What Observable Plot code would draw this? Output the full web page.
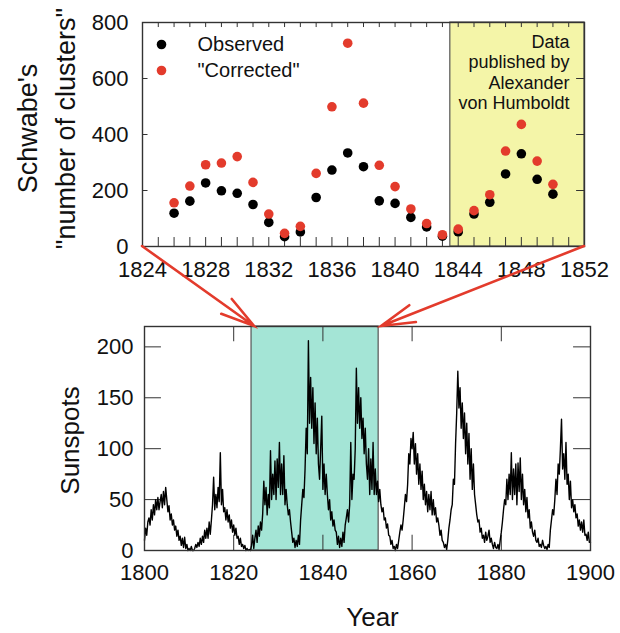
<!DOCTYPE html>
<html><head><meta charset="utf-8">
<script src="https://cdn.jsdelivr.net/npm/d3@7"></script>
<script src="https://cdn.jsdelivr.net/npm/@observablehq/plot@0.6"></script>
<style>
body{margin:0;background:#fff;}
#wrap{position:relative;width:620px;height:633px;font-family:"Liberation Sans",Arial,sans-serif;overflow:hidden;}
#wrap > svg{display:block;}
#arrows{position:absolute;left:0;top:0;pointer-events:none;}
</style></head><body><div id="wrap"></div>
<script>
// ---------- Top panel data (Schwabe's counts) ----------
const years = [1826,1827,1828,1829,1830,1831,1832,1833,1834,1835,1836,1837,1838,1839,1840,1841,1842,1843,1844,1845,1846,1847,1848,1849,1850];
const observed = [119,162,227,199,190,150,86,35,52,175,273,334,285,163,154,104,70,37,52,116,158,259,331,240,187];
const corrected = [156,216,292,298,321,229,116,47,72,261,499,726,512,290,214,134,82,42,62,128,185,341,436,305,222];
const topXTicks = [1824,1828,1832,1836,1840,1844,1848,1852];
const topYTicks = [0,200,400,600,800];
const humboldtRange = [1843.5, 1852];
const humboldtLabel = ["Data","published by","Alexander","von Humboldt"];
const legendLabels = ["Observed", "\"Corrected\""];
const topYLabel = ["Schwabe's", "\"number of clusters\""];

// ---------- Bottom panel data (sunspot number, read quarterly from 1800) ----------
const sunspotStart = 1800;
const sunspots = [
 10,22,15,28, 32,25,40,30, 45,35,50,40, 52,40,48,55, 42,58,45,62,
 50,38,44,30, 36,25,30,20, 24,14,20,10, 14,5,12,3, 13,2,6,0,
 2,0,4,0, 0,2,6,3, 8,4,12,6, 14,8,20,12, 22,12,28,16,
 30,45,72,40, 55,42,62,48, 96,45,60,38, 42,30,40,28, 35,22,30,18,
 25,15,22,12, 14,6,12,4, 6,2,5,0, 2,0,1,0, 5,15,2,12,
 20,8,24,14, 28,20,36,68, 45,62,35,55, 42,98,50,75, 55,88,50,90,
 62,106,55,85, 55,93,45,60, 45,35,40,28, 18,8,12,3, 10,4,15,6,
 30,45,60,52, 80,120,95,206, 125,170,120,160, 105,145,95,130, 85,70,100,132,
 60,85,55,75, 55,40,50,30, 38,24,30,20, 18,6,14,3, 12,4,18,8,
 25,32,40,28, 45,106,50,75, 70,100,179,125, 160,120,150,110, 130,95,120,85,
 70,100,55,90, 60,106,55,80, 55,68,48,60, 45,38,42,30, 32,22,26,15,
 14,6,10,2, 4,0,6,2, 10,18,25,20, 30,42,55,48, 65,95,85,110,
 100,116,85,105, 75,95,65,85, 60,78,50,65, 45,58,38,55, 40,58,35,50,
 35,42,28,32, 25,15,20,10, 8,3,6,1, 10,22,30,40, 45,70,65,105,
 135,176,140,160, 120,145,110,135, 95,125,85,115, 70,100,60,85, 55,45,35,28,
 30,18,22,12, 15,8,18,10, 14,20,8,12, 6,2,8,3, 2,6,1,10,
 18,28,40,50, 45,70,50,75, 55,96,50,80, 55,85,45,86, 58,91,50,75,
 45,60,38,52, 32,40,22,28, 18,14,20,10, 8,12,4,6, 3,10,5,2,
 4,1,6,3, 20,30,40,35, 50,70,55,85, 75,100,129,80, 95,70,106,65,
 75,50,68,42, 50,38,45,32, 36,24,30,20, 28,18,30,15, 16,10,18,8,
 8
];
const bottomXTicks = [1800,1820,1840,1860,1880,1900];
const bottomYTicks = [0,50,100,150,200];
const highlightRange = [1824, 1852.5];

// ---------- styles ----------
const FONT = '"Liberation Sans", Arial, sans-serif';
const RED = "#e33b2c";
const TEAL = "#a4e5d6";
const YELLOW = "#f4f5a8";
const FRAME = "#333";

const obsData = years.map((y, i) => ({year: y, value: observed[i]}));
const corData = years.map((y, i) => ({year: y, value: corrected[i]}));
const minorYears = d3.range(topXTicks[0], topXTicks[topXTicks.length - 1] + 1);
const spData = sunspots.map((v, i) => ({t: sunspotStart + i / 4, v}));

const wrap = document.getElementById("wrap");

const topPlot = Plot.plot({
  width: 620, height: 300,
  marginLeft: 142, marginRight: 36, marginTop: 22, marginBottom: 54,
  style: {fontFamily: FONT, fontSize: "22px", color: "#111", background: "transparent", overflow: "visible"},
  x: {domain: [1824, 1852]},
  y: {domain: [0, 800]},
  marks: [
    Plot.rect([humboldtRange], {x1: d => d[0], x2: d => d[1], fill: YELLOW, stroke: "#555", strokeWidth: 1.2}),
    Plot.ruleX(minorYears, {x: d => d, y1: 0, y2: 32, stroke: FRAME, strokeWidth: 1}),
    Plot.ruleX(minorYears, {x: d => d, y1: 800, y2: 782, stroke: FRAME, strokeWidth: 1}),
    Plot.ruleY(topYTicks, {y: d => d, x1: 1824, x2: 1824.35, stroke: FRAME, strokeWidth: 1}),
    Plot.ruleY(topYTicks, {y: d => d, x1: 1852, x2: 1851.5, stroke: FRAME, strokeWidth: 1}),
    Plot.dot(obsData, {x: "year", y: "value", r: 4.8, fill: "black"}),
    Plot.dot(corData, {x: "year", y: "value", r: 4.8, fill: RED}),
    Plot.dot([legendLabels[0]], {frameAnchor: "top-left", dx: 19, dy: 22, r: 4.8, fill: "black"}),
    Plot.dot([legendLabels[1]], {frameAnchor: "top-left", dx: 19, dy: 48, r: 4.8, fill: RED}),
    Plot.text([legendLabels[0]], {frameAnchor: "top-left", dx: 55, dy: 22, text: d => d, textAnchor: "start", lineAnchor: "middle", fontSize: 20, fill: "#111"}),
    Plot.text([legendLabels[1]], {frameAnchor: "top-left", dx: 55, dy: 48, text: d => d, textAnchor: "start", lineAnchor: "middle", fontSize: 20, fill: "#111"}),
    Plot.text([humboldtLabel.join("\n")], {frameAnchor: "top-right", dx: -15, dy: 11, text: d => d, textAnchor: "end", lineAnchor: "top", lineHeight: 1.13, fontSize: 18, fill: "#111"}),
    Plot.text([topYLabel.join("\n")], {frameAnchor: "left", dx: -99, dy: -6, text: d => d, rotate: -90, textAnchor: "middle", lineAnchor: "middle", lineHeight: 1.44, fontSize: 27, fill: "#111"}),
    Plot.axisX({ticks: topXTicks, tickSize: 0, tickPadding: 15, tickFormat: d => String(d), label: null, fontSize: 22}),
    Plot.axisY({ticks: topYTicks, tickSize: 0, tickPadding: 14, tickFormat: d => String(d), label: null, fontSize: 22}),
    Plot.frame({stroke: FRAME, strokeWidth: 1.4})
  ]
});

const botPlot = Plot.plot({
  width: 620, height: 333,
  marginLeft: 144, marginRight: 30, marginTop: 26, marginBottom: 83,
  style: {fontFamily: FONT, fontSize: "22px", color: "#111", background: "transparent", overflow: "visible"},
  x: {domain: [1800, 1900]},
  y: {domain: [0, 220]},
  marks: [
    Plot.rect([highlightRange], {x1: d => d[0], x2: d => d[1], fill: TEAL, stroke: "#555", strokeWidth: 1.2}),
    Plot.ruleX(bottomXTicks, {x: d => d, y1: 0, y2: 15, stroke: FRAME, strokeWidth: 1}),
    Plot.ruleX(bottomXTicks, {x: d => d, y1: 220, y2: 205, stroke: FRAME, strokeWidth: 1}),
    Plot.ruleY(bottomYTicks, {y: d => d, x1: 1800, x2: 1803.8, stroke: FRAME, strokeWidth: 1}),
    Plot.ruleY(bottomYTicks, {y: d => d, x1: 1900, x2: 1896.2, stroke: FRAME, strokeWidth: 1}),
    Plot.line(spData, {x: "t", y: "v", stroke: "black", strokeWidth: 1.4}),
    Plot.text(["Sunspots"], {frameAnchor: "left", dx: -74, dy: 2, text: d => d, rotate: -90, textAnchor: "middle", lineAnchor: "middle", fontSize: 26, fill: "#111"}),
    Plot.text(["Year"], {frameAnchor: "bottom", dx: 5, dy: 67, text: d => d, textAnchor: "middle", lineAnchor: "middle", fontSize: 26, fill: "#111"}),
    Plot.axisX({ticks: bottomXTicks, tickSize: 0, tickPadding: 14, tickFormat: d => String(d), label: null, fontSize: 22}),
    Plot.axisY({ticks: bottomYTicks, tickSize: 0, tickPadding: 11, tickFormat: d => String(d), label: null, fontSize: 22}),
    Plot.frame({stroke: FRAME, strokeWidth: 1.4})
  ]
});

wrap.appendChild(topPlot);
wrap.appendChild(botPlot);

// ---------- connecting arrows, placed through both plots' scales ----------
const wr = wrap.getBoundingClientRect();
const tr = topPlot.getBoundingClientRect();
const br = botPlot.getBoundingClientRect();
const tx = topPlot.scale("x"), ty = topPlot.scale("y");
const bx = botPlot.scale("x"), by = botPlot.scale("y");
const topDom = tx.domain, botTop = by.domain[1];
const arrows = [
  {from: [tr.left - wr.left + tx.apply(topDom[0]), tr.top - wr.top + ty.apply(0)],
   to:   [br.left - wr.left + bx.apply(highlightRange[0]) + 3, br.top - wr.top + by.apply(botTop)]},
  {from: [tr.left - wr.left + tx.apply(topDom[1]), tr.top - wr.top + ty.apply(0)],
   to:   [br.left - wr.left + bx.apply(highlightRange[1]) + 3, br.top - wr.top + by.apply(botTop)]}
];
const svg = d3.select(wrap).append("svg").attr("id", "arrows").attr("width", 620).attr("height", 633);
const L = 35, th = 15 * Math.PI / 180;
for (const a of arrows) {
  const [x0, y0] = a.from, [x1, y1] = a.to;
  const ang = Math.atan2(y1 - y0, x1 - x0);
  const w1 = [x1 - L * Math.cos(ang - th), y1 - L * Math.sin(ang - th)];
  const w2 = [x1 - L * Math.cos(ang + th), y1 - L * Math.sin(ang + th)];
  svg.append("path")
    .attr("d", `M${x0},${y0}L${x1},${y1}M${w1[0]},${w1[1]}L${x1},${y1}L${w2[0]},${w2[1]}`)
    .attr("fill", "none").attr("stroke", RED).attr("stroke-width", 2.6).attr("stroke-linecap", "round").attr("stroke-linejoin", "miter");
}
</script></body></html>
